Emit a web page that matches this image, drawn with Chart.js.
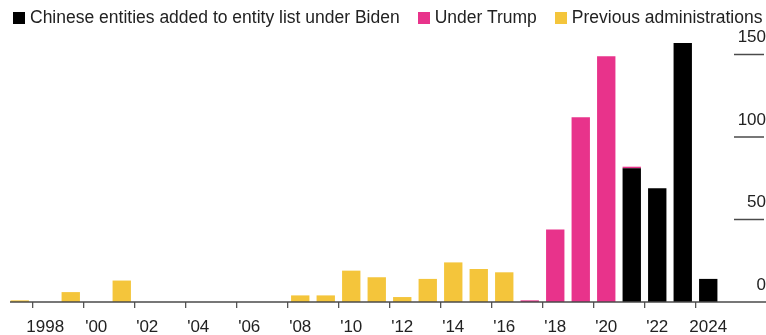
<!DOCTYPE html>
<html>
<head>
<meta charset="utf-8">
<script src="https://cdn.jsdelivr.net/npm/chart.js@4/dist/chart.umd.min.js"></script>
<style>
    html, body { margin: 0; padding: 0; background: #fff; }
    #wrap { position: relative; width: 766px; height: 335px; overflow: hidden; }
    #entity-chart { position: absolute; left: 0; top: 0; }
    #legend { position: absolute; left: 13px; top: 7px; display: flex; align-items: center;
        font-family: "Liberation Sans", Arial, sans-serif; font-size: 17.5px; color: #222; white-space: nowrap; }
    #legend .item { display: flex; align-items: center; margin-right: 18px; }
    #legend .sw { width: 12px; height: 12px; margin-right: 5px; display: inline-block; }
</style>
</head>
<body>
<div id="wrap">
    <canvas id="entity-chart" width="766" height="335"></canvas>
    <div id="legend"></div>
</div>
<script>
const years = [1997, 1998, 1999, 2000, 2001, 2002, 2003, 2004, 2005, 2006, 2007, 2008, 2009, 2010,
    2011, 2012, 2013, 2014, 2015, 2016, 2017, 2018, 2019, 2020, 2021, 2022, 2023, 2024];
const bidenValues    = [null, null, null, null, null, null, null, null, null, null, null, null, null, null,
    null, null, null, null, null, null, null, null, null, null, 81, 69, 157, 14];
const trumpValues    = [null, null, null, null, null, null, null, null, null, null, null, null, null, null,
    null, null, null, null, null, null, 1, 44, 112, 149, 1, null, null, null];
const previousValues = [1, 0, 6, 0, 13, 0, 0, 0, 0, 0, 0, 4, 4, 19,
    15, 3, 14, 24, 20, 18, null, null, null, null, null, null, null, null];
const tickYears  = [1998, 2000, 2002, 2004, 2006, 2008, 2010, 2012, 2014, 2016, 2018, 2020, 2022, 2024];
const tickLabels = ['1998', "'00", "'02", "'04", "'06", "'08", "'10", "'12", "'14", "'16", "'18", "'20", "'22", '2024'];
const yTicks = [0, 50, 100, 150];

const seriesNames  = ['Chinese entities added to entity list under Biden', 'Under Trump', 'Previous administrations'];
const seriesColors = ['#000000', '#e8338b', '#f4c53b'];

const FONT = '"Liberation Sans", Arial, sans-serif';

const EntityChart = {
    init() {
        this.buildLegend();
        this.drawChart();
    },

    buildLegend() {
        const box = document.getElementById('legend');
        seriesNames.forEach((name, i) => {
            const item = document.createElement('span');
            item.className = 'item';
            item.innerHTML = `<span class="sw" style="background:${seriesColors[i]}"></span><span>${name}</span>`;
            box.appendChild(item);
        });
    },

    drawChart() {
        // baseline runs under the y labels, and the y ticks are short strokes under each label
        const axisDecor = {
            id: 'axisDecor',
            afterDatasetsDraw(chart) {
                const { ctx, chartArea, scales } = chart;
                const y0 = scales.y.getPixelForValue(0);
                ctx.save();
                ctx.strokeStyle = '#4a4a4a';
                ctx.lineWidth = 1.5;
                ctx.beginPath();
                ctx.moveTo(chartArea.left + 3, y0);
                ctx.lineTo(chart.width, y0);
                ctx.stroke();
                scales.y.ticks.forEach(t => {
                    if (t.value === 0) return;
                    const y = scales.y.getPixelForValue(t.value);
                    ctx.beginPath();
                    ctx.moveTo(chartArea.right + 13, y);
                    ctx.lineTo(chart.width - 2, y);
                    ctx.stroke();
                });
                ctx.restore();
            }
        };

        new Chart(document.getElementById('entity-chart').getContext('2d'), {
            type: 'bar',
            data: {
                labels: years,
                datasets: [
                    { label: seriesNames[0], data: bidenValues, backgroundColor: seriesColors[0] },
                    { label: seriesNames[1], data: trumpValues, backgroundColor: seriesColors[1] },
                    { label: seriesNames[2], data: previousValues, backgroundColor: seriesColors[2] }
                ]
            },
            options: {
                responsive: false,
                animation: false,
                layout: { padding: { left: 7, right: 0, top: 38, bottom: 0 } },
                datasets: { bar: { barPercentage: 0.72, categoryPercentage: 1 } },
                plugins: { legend: { display: false }, tooltip: { enabled: false } },
                scales: {
                    x: {
                        stacked: true,
                        afterFit(scale) { scale.height = 33; },
                        border: { display: false },
                        grid: {
                            drawOnChartArea: false,
                            drawTicks: true,
                            tickLength: 6,
                            lineWidth: 1.3,
                            color: ctx => tickYears.includes(years[ctx.index]) ? '#555' : 'rgba(0,0,0,0)'
                        },
                        ticks: {
                            autoSkip: false,
                            maxRotation: 0,
                            padding: 9,
                            color: '#222',
                            font: { family: FONT, size: 17 },
                            callback(value, index) {
                                const k = tickYears.indexOf(years[index]);
                                return k >= 0 ? tickLabels[k] : '';
                            }
                        }
                    },
                    y: {
                        stacked: true,
                        position: 'right',
                        min: 0,
                        max: 160,
                        afterFit(scale) { scale.width = 45; },
                        afterBuildTicks(scale) { scale.ticks = yTicks.map(v => ({ value: v })); },
                        border: { display: false },
                        grid: { display: false, drawTicks: false },
                        ticks: {
                            crossAlign: 'far',
                            padding: 13,
                            labelOffset: -17,
                            color: '#222',
                            font: { family: FONT, size: 17 }
                        }
                    }
                }
            },
            plugins: [axisDecor]
        });
    }
};

document.addEventListener('DOMContentLoaded', () => EntityChart.init());
</script>
</body>
</html>
